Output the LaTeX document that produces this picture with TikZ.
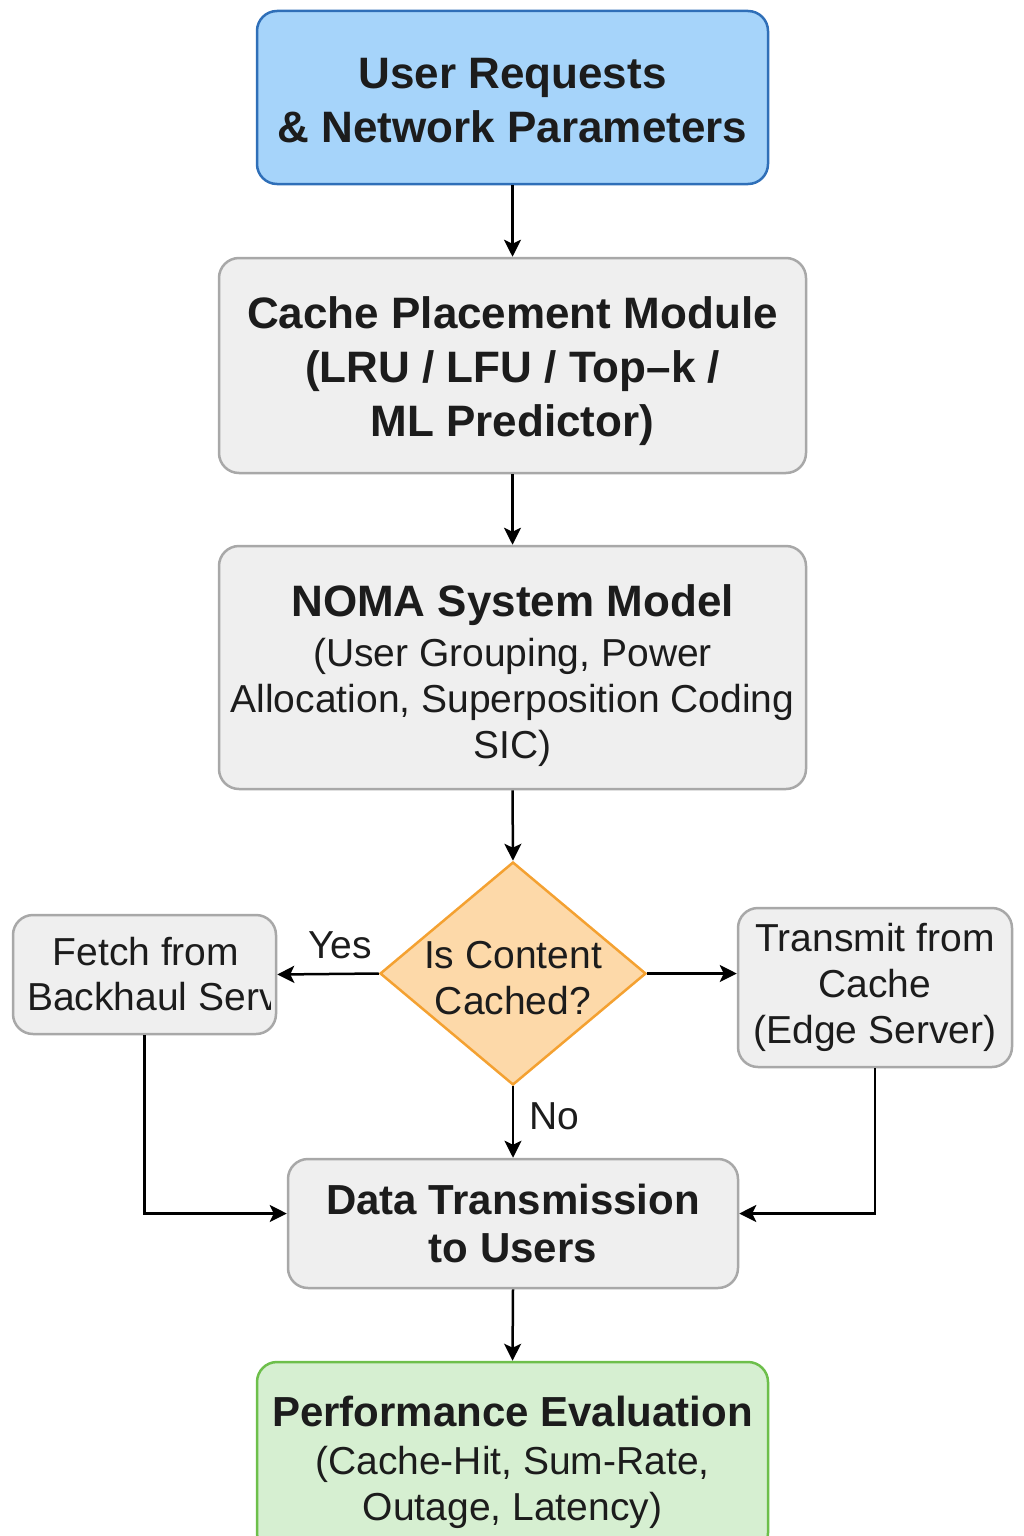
\documentclass[tikz,border=0pt]{standalone}
\usepackage{fontspec}
\setmainfont{Liberation Sans}
\usetikzlibrary{arrows.meta,shapes.geometric}
\definecolor{reqfill}{HTML}{A6D4FA}
\definecolor{reqline}{HTML}{2F6FB8}
\definecolor{boxfill}{HTML}{EFEFEF}
\definecolor{boxline}{HTML}{A8A8A8}
\definecolor{askfill}{HTML}{FDD9A9}
\definecolor{askline}{HTML}{F4A131}
\definecolor{perffill}{HTML}{D6EFD1}
\definecolor{perfline}{HTML}{6DBF4B}
\definecolor{ink}{HTML}{1C1C1C}
\newcommand{\headfont}{\fontsize{44}{54}\selectfont\bfseries}
\newcommand{\subheadfont}{\fontsize{42}{54}\selectfont\bfseries}
\newcommand{\bodyfont}{\fontsize{39}{46}\selectfont}
\newcommand{\topgap}[1]{\rule{0pt}{#1}}

\begin{document}
\begin{tikzpicture}[x=1pt, y=-1pt,
		box/.style={draw=boxline, fill=boxfill, line width=2.5pt, rounded corners=20pt, inner sep=0pt, align=center, text=ink, font=\bodyfont},
		flow/.style={-{Stealth[length=17pt,width=17pt,inset=4pt]}, line width=2.5pt, draw=black},
		tag/.style={inner sep=0pt, text=ink, font=\bodyfont}]
		\useasboundingbox (0, 0) rectangle (1024, 1536);

		\node[box, draw=reqline, fill=reqfill, font=\headfont, minimum width=511pt, minimum height=173pt] (req) at (512.5, 97.5) {\topgap{36pt}User Requests\\\& Network Parameters};
		\node[box, font=\headfont, minimum width=587pt, minimum height=215pt] (place) at (512.5, 365.5) {\topgap{44pt}Cache Placement Module\\(LRU / LFU / Top--k /\\ML Predictor)};
		\node[box, minimum width=587pt, minimum height=243pt] (noma) at (512.5, 667.5) {\topgap{48pt}{\headfont NOMA System Model}\\[4pt](User Grouping, Power\\Allocation, Superposition Coding\\SIC)};
		\node[diamond, draw=askline, fill=askfill, line width=2.5pt, inner sep=0pt, minimum width=266pt, minimum height=223pt] (check) at (513, 973.5) {};
		\node[tag, align=center] (checktxt) at (513, 978.5) {Is Content\\Cached?};

		\node[box, minimum width=263pt, minimum height=119pt] (fetch) at (144.5, 974.5) {};
		\node[tag] (fetchtop) at (146, 952) {Fetch from};
		\begin{scope}
			\clip (fetch.north west) rectangle (270, 1034);
			\node[tag, anchor=west] (fetchbot) at (27, 997) {Backhaul Server};
		\end{scope}
		\node[box, minimum width=274pt, minimum height=159pt] (edge) at (875, 987.5) {Transmit from\\Cache\\(Edge Server)};

		\node[box, font=\subheadfont, minimum width=450pt, minimum height=129pt] (trans) at (513, 1223.5) {Data Transmission\\[-6pt]to Users};
		\node[box, draw=perfline, fill=perffill, minimum width=511pt, minimum height=191pt] (perf) at (512.5, 1457.5) {\topgap{41pt}{\subheadfont Performance Evaluation}\\[2pt](Cache-Hit, Sum-Rate,\\Outage, Latency)};

		\draw[flow] (req.south) -- (place.north);
		\draw[flow] (place.south) -- (noma.north);
		\draw[flow] (noma.south) -- (check.north);
		\draw[flow] (check.west) -- (fetch.east) node[tag, pos=0.38, above=14pt] {Yes};
		\draw[flow] (check.east) -- (edge.west |- check.east);
		\draw[flow] (check.south) -- (trans.north) node[tag, pos=0.42, right=15pt] {No};
		\draw[flow] (fetch.south) |- ([yshift=10pt]trans.west);
		\draw[flow] (edge.south) |- ([yshift=10pt]trans.east);
		\draw[flow] (trans.south) -- (perf.north);
	\end{tikzpicture}
\end{document}
